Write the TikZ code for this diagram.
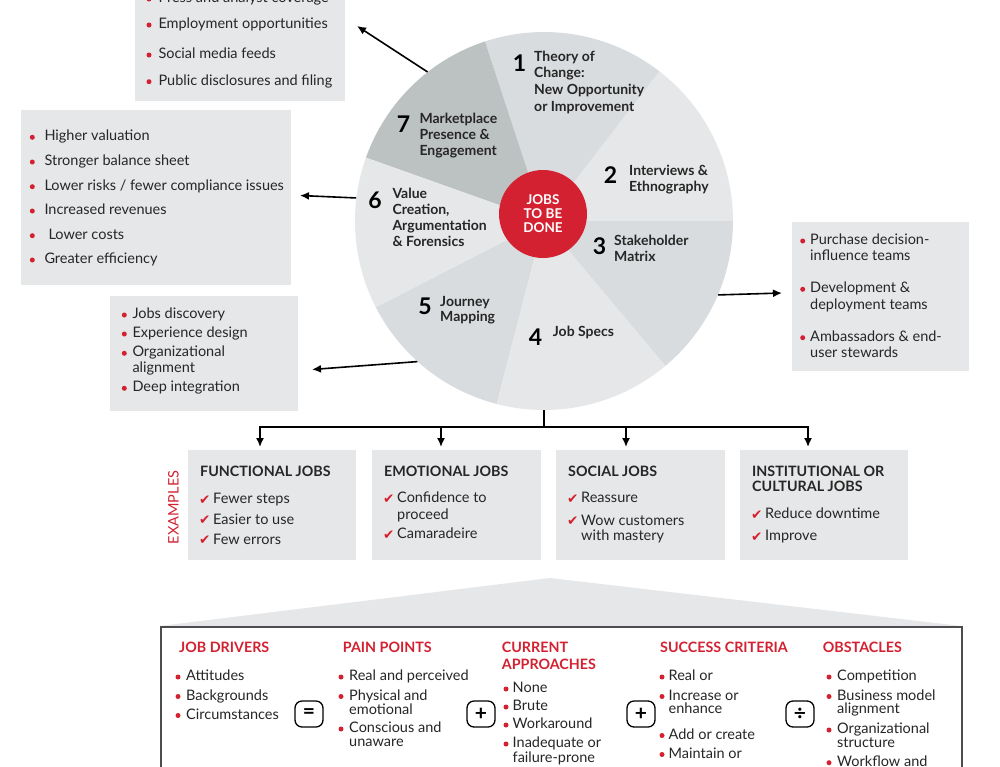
\documentclass[tikz,border=0pt]{standalone}
\usepackage{fontspec}
\setmainfont{Lato}
\newfontfamily\symfont{DejaVu Sans}
\usetikzlibrary{arrows.meta}
\definecolor{jred}{HTML}{D42131}
\definecolor{boxgray}{HTML}{E6E7E8}
\definecolor{pielight}{HTML}{E6E7E8}
\definecolor{piemid}{HTML}{D9DCDE}
\definecolor{piedark}{HTML}{BCC2C1}
\definecolor{ink}{HTML}{262626}
\definecolor{framegray}{HTML}{4D4D4F}
\tikzset{
  txt/.style={font=\fontsize{14.5}{16}\selectfont, text=ink, inner sep=0pt, anchor=west, text height=9.5pt, text depth=2.5pt},
  lbl/.style={txt, font=\fontsize{14}{16}\selectfont\bfseries},
  num/.style={font=\fontsize{23}{26}\selectfont\bfseries, text=black, inner sep=0pt},
  ttl/.style={txt, font=\fontsize{14.3}{16}\selectfont\bfseries},
  rttl/.style={ttl, text=jred},
  chk/.style={font=\symfont\fontsize{13.5}{14}\selectfont, text=jred, inner sep=0pt, anchor=west},
  gbox/.style={fill=boxgray, draw=none, inner sep=0pt, anchor=north west},
  arr/.style={line width=1.6pt, draw=black, -{Latex[length=9pt,width=8pt]}},
  conn/.style={line width=1.6pt, draw=black},
  opbox/.style={draw=black, line width=1.3pt, rounded corners=7pt, minimum width=28pt, minimum height=26pt, inner sep=0pt, font=\fontsize{21}{21}\selectfont\bfseries, text=black},
}
\newcommand\gbx[5]{\node[gbox, minimum width={(#4-#2)*1pt}, minimum height={(#5-#3)*1pt}] (#1) at (#2,#3) {};}
\newcommand\bitem[5]{\fill[jred] (#2,#4) circle (2.5pt); \node[txt] (#1) at (#3,#4) {#5};}
\newcommand\tline[4]{\node[txt] (#1) at (#2,#3) {#4};}
\newcommand\citem[4]{\node[chk] (#1c) at (#2-1,#3) {✔}; \node[txt] (#1) at (#2+13,#3) {#4};}
\newcommand\plbl[4]{\node[lbl] (#1) at (#2,#3) {#4};}
\begin{document}
\begin{tikzpicture}[x=1pt,y=-1pt]
\useasboundingbox (0,0) rectangle (1000,766);
\clip (0,0) rectangle (1000,766);
\fill[white] (0,0) rectangle (1000,766);

% ---------- pie ----------
\begin{scope}[shift={(544,221)}, y=1pt]
  \fill[pielight] (0,0) -- (0:189) arc[start angle=0, end angle=52.4, radius=189] -- cycle;
  \fill[piemid] (0,0) -- (52.4:189) arc[start angle=52.4, end angle=108.2, radius=189] -- cycle;
  \fill[piedark] (0,0) -- (108.2:189) arc[start angle=108.2, end angle=160.4, radius=189] -- cycle;
  \fill[pielight] (0,0) -- (160.4:189) arc[start angle=160.4, end angle=207.2, radius=189] -- cycle;
  \fill[piemid] (0,0) -- (207.2:189) arc[start angle=207.2, end angle=255.5, radius=189] -- cycle;
  \fill[pielight] (0,0) -- (255.5:189) arc[start angle=255.5, end angle=310, radius=189] -- cycle;
  \fill[piemid] (0,0) -- (310:189) arc[start angle=310, end angle=360, radius=189] -- cycle;
\end{scope}
\node[circle, minimum size=378pt, inner sep=0pt] (pie) at (544,221) {};
\node[circle, fill=jred, minimum size=88pt, inner sep=0pt, text=white, align=center,
      font=\fontsize{13.5}{14}\selectfont\bfseries] (jtbd) at (543,214) {JOBS\\TO BE\\DONE};

% pie numbers and labels
\node[num] (n1) at (519.5,63) {1};
\plbl{l1a}{534}{58.3}{Theory of}
\plbl{l1b}{534}{74.3}{Change:}
\plbl{l1c}{534}{91}{New Opportunity}
\plbl{l1d}{534}{107.7}{or Improvement}
\node[num] (n2) at (610.5,175) {2};
\plbl{l2a}{629}{172.3}{Interviews \&}
\plbl{l2b}{629}{187.7}{Ethnography}
\node[num] (n3) at (599.5,246) {3};
\plbl{l3a}{614}{241.7}{Stakeholder}
\plbl{l3b}{614}{258.3}{Matrix}
\node[num] (n4) at (535.5,337.5) {4};
\plbl{l4a}{552.7}{333.3}{Job Specs}
\node[num] (n5) at (425,306.5) {5};
\plbl{l5a}{440}{302.7}{Journey}
\plbl{l5b}{440}{317.7}{Mapping}
\node[num] (n6) at (375,200) {6};
\plbl{l6a}{392.3}{195}{Value}
\plbl{l6b}{392.3}{211}{Creation,}
\plbl{l6c}{392.3}{227.3}{Argumentation}
\plbl{l6d}{392.3}{242.7}{\& Forensics}
\node[num] (n7) at (403.5,124) {7};
\plbl{l7a}{419.3}{120}{Marketplace}
\plbl{l7b}{419.3}{136}{Presence \&}
\plbl{l7c}{419.3}{152.3}{Engagement}

% ---------- side boxes ----------
\gbx{bx7}{135}{-40}{345}{101}
\bitem{p1}{149}{158.3}{-1}{Press and analyst coverage}
\bitem{p2}{149}{158.3}{25}{Employment opportunities}
\bitem{p3}{149}{158.3}{55}{Social media feeds}
\bitem{p4}{149}{158.3}{81.7}{Public disclosures and filing}

\gbx{bx6}{21}{110}{291}{285}
\bitem{v1}{32.3}{44.3}{137.3}{Higher valuation}
\bitem{v2}{32.3}{44.3}{162}{Stronger balance sheet}
\bitem{v3}{32.3}{44.3}{186.7}{Lower risks / fewer compliance issues}
\bitem{v4}{32.3}{44.3}{211}{Increased revenues}
\bitem{v5}{32.3}{48.3}{235.7}{Lower costs}
\bitem{v6}{32.3}{44.3}{260}{Greater efficiency}

\gbx{bx5}{110}{296}{298}{411}
\bitem{j1}{124.3}{132.3}{315}{Jobs discovery}
\bitem{j2}{124.3}{132.3}{334}{Experience design}
\bitem{j3}{124.3}{132.3}{353.3}{Organizational}
\tline{j3b}{132.3}{369.3}{alignment}
\bitem{j4}{124.3}{132.3}{388.3}{Deep integration}

\gbx{bx3}{792}{222}{969}{371}
\bitem{s1}{802.7}{810}{241}{Purchase decision-}
\tline{s1b}{810}{256.7}{influence teams}
\bitem{s2}{802.7}{810}{289.3}{Development \&}
\tline{s2b}{810}{305.7}{deployment teams}
\bitem{s3}{802.7}{810}{337.7}{Ambassadors \& end-}
\tline{s3b}{810}{353.7}{user stewards}

% arrows from pie
\coordinate (t7) at (357,26);
\coordinate (t6) at (300,195.5);
\coordinate (t5) at (312,369.5);
\coordinate (t3) at (782,293);
\draw[arr] (pie.128.6) -- (t7);
\draw[arr] (pie.173.4) -- (t6);
\draw[arr] (pie.228.2) -- (t5);
\draw[arr] (pie.337.8) -- (t3);

% ---------- tree ----------
\coordinate (hub) at (544,427);
\coordinate (a1) at (260,447);
\coordinate (a2) at (441,447);
\coordinate (a3) at (626,447);
\coordinate (a4) at (808,447);
\draw[conn] (pie.south) -- (hub);
\draw[conn, line cap=rect] (a1 |- hub) -- (a4 |- hub);
\foreach \k in {1,...,4} { \draw[arr] (a\k |- hub) -- (a\k); }

\gbx{fj}{188}{449.5}{356}{560}
\gbx{ej}{372}{449.5}{541}{560}
\gbx{sj}{556}{449.5}{725}{560}
\gbx{ij}{740}{449.5}{908}{560}

\node[ttl] (fjt) at (200,473.3) {FUNCTIONAL JOBS};
\citem{f1}{200}{500}{Fewer steps}
\citem{f2}{200}{520.7}{Easier to use}
\citem{f3}{200}{540.7}{Few errors}

\node[ttl] (ejt) at (384,473.3) {EMOTIONAL JOBS};
\citem{e1}{384}{499.3}{Confidence to}
\tline{e1b}{397}{515.7}{proceed}
\citem{e2}{384}{535}{Camaradeire}

\node[ttl] (sjt) at (568,473.3) {SOCIAL JOBS};
\citem{o1}{568}{499}{Reassure}
\citem{o2}{568}{521.7}{Wow customers}
\tline{o2b}{581}{536.7}{with mastery}

\node[ttl] (ijt) at (752,472.7) {INSTITUTIONAL OR};
\node[ttl] (ijt2) at (752,488.3) {CULTURAL JOBS};
\citem{i1}{752}{515}{Reduce downtime}
\citem{i2}{752}{537.3}{Improve}

\node[rotate=90, text=jred, inner sep=0pt, font=\fontsize{14.5}{16}\selectfont] (ex) at (173.5,507.5) {EXAMPLES};

% ---------- bottom panel ----------
\fill[boxgray] (160,626) -- (550,578) -- (961,626) -- cycle;
\node[draw=framegray, line width=1.5pt, fill=white, anchor=north west, minimum width=801pt, minimum height=200pt, inner sep=0pt] (bot) at (160,626) {};

\node[rttl] (h1) at (179,649) {JOB DRIVERS};
\bitem{d1}{178}{186}{677}{Attitudes}
\bitem{d2}{178}{186}{696.5}{Backgrounds}
\bitem{d3}{178}{186}{715.5}{Circumstances}

\node[opbox] (op1) at (309,714) {=};

\node[rttl] (h2) at (342.7,649) {PAIN POINTS};
\bitem{q1}{341}{349}{677}{Real and perceived}
\bitem{q2}{341}{349}{696.5}{Physical and}
\tline{q2b}{349}{710.7}{emotional}
\bitem{q3}{341}{349}{729}{Conscious and}
\tline{q3b}{349}{743.3}{unaware}

\node[opbox] (op2) at (481,714) {+};

\node[rttl] (h3) at (501.7,649) {CURRENT};
\node[rttl] (h3b) at (501.7,665.7) {APPROACHES};
\bitem{c1}{506}{512.5}{689}{None}
\bitem{c2}{506}{512.5}{707}{Brute}
\bitem{c3}{506}{512.5}{725}{Workaround}
\bitem{c4}{506}{512.5}{744}{Inadequate or}
\tline{c4b}{512.5}{758.5}{failure-prone}

\node[opbox] (op3) at (641,714) {+};

\node[rttl] (h4) at (660,649) {SUCCESS CRITERIA};
\bitem{u1}{662}{668.5}{677}{Real or}
\bitem{u2}{662}{668.5}{696.5}{Increase or}
\tline{u2b}{668.5}{710}{enhance}
\bitem{u3}{662}{668.5}{735.5}{Add or create}
\bitem{u4}{662}{668.5}{754.5}{Maintain or}

\node[opbox] (op4) at (800,714) {÷};

\node[rttl] (h5) at (822.7,649) {OBSTACLES};
\bitem{b1}{829}{837}{677}{Competition}
\bitem{b2}{829}{837}{696.5}{Business model}
\tline{b2b}{837}{710}{alignment}
\bitem{b3}{829}{837}{730}{Organizational}
\tline{b3b}{837}{744}{structure}
\bitem{b4}{829}{837}{762.7}{Workflow and}
\end{tikzpicture}
\end{document}
